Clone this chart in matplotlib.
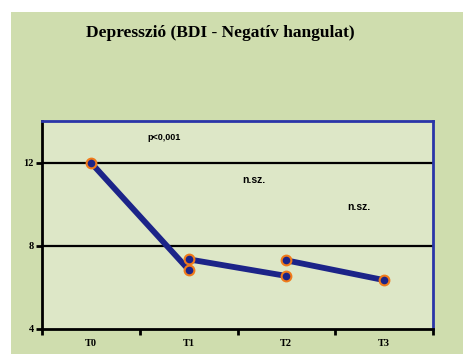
import matplotlib
matplotlib.use("Agg")
import matplotlib.pyplot as plt
from matplotlib.patches import Rectangle

title = "Depresszió (BDI - Negatív hangulat)"
categories = ["T0", "T1", "T2", "T3"]
seg1_x = [0, 1]
seg1_y = [12.0, 6.85]
seg2_x = [1, 2]
seg2_y = [7.35, 6.55]
seg3_x = [2, 3]
seg3_y = [7.3, 6.35]
y_ticks = [4, 8, 12]
annotations = [("p<0,001", 0.75, 13.2, 6.5), ("n.sz.", 1.67, 11.15, 7.5), ("n.sz.", 2.74, 9.85, 7.5)]

W, H = 463, 354
fig = plt.figure(figsize=(W / 100, H / 100), dpi=100, facecolor="white")
fig.patches.append(Rectangle((11 / W, 0), 1 - 11 / W, 1 - 12 / H, transform=fig.transFigure,
                             facecolor="#cfddae", edgecolor="none", zorder=-10))

ax = fig.add_axes([42 / W, (H - 329) / H, (433 - 42) / W, (329 - 121) / H])
ax.set_zorder(5)
ax.set_facecolor("#dde7c7")
ax.set_xlim(-0.5, 3.5)
ax.set_ylim(4, 14)

for yv in [8, 12]:
    ax.axhline(yv, color="black", lw=1.6, zorder=1)

navy = "#1c2488"
for xs, ys in [(seg1_x, seg1_y), (seg2_x, seg2_y), (seg3_x, seg3_y)]:
    ax.plot(xs, ys, color=navy, lw=4.2, solid_capstyle="butt", zorder=3,
            marker="o", ms=7, mfc=navy, mec="#f07a1a", mew=1.5)

for s in ["left", "bottom"]:
    ax.spines[s].set_color("black")
    ax.spines[s].set_linewidth(2)
for s in ["top", "right"]:
    ax.spines[s].set_color("#2a35a8")
    ax.spines[s].set_linewidth(2)

ax.set_yticks(y_ticks)
ax.set_yticklabels([str(v) for v in y_ticks], family="Liberation Serif", fontweight="bold", fontsize=7.5)
ax.tick_params(axis="y", length=4, width=2, color="black", pad=2)

ax.set_xticks([-0.5, 0.5, 1.5, 2.5, 3.5])
ax.set_xticklabels([])
ax.tick_params(axis="x", which="major", length=4, width=2, color="black")
ax.set_xticks([0, 1, 2, 3], minor=True)
ax.set_xticklabels(categories, minor=True, family="Liberation Serif", fontweight="bold", fontsize=7.5)
ax.tick_params(axis="x", which="minor", length=0, pad=7)

for txt, x, y, fs in annotations:
    ax.text(x, y, txt, ha="center", va="center", fontsize=fs, fontweight="bold",
            family="Liberation Sans", zorder=4)

fig.text(220 / W, 1 - 33 / H, title, ha="center", va="center", family="Liberation Serif",
         fontweight="bold", fontsize=12.5)

fig.savefig("out.png", dpi=100, facecolor="white")
